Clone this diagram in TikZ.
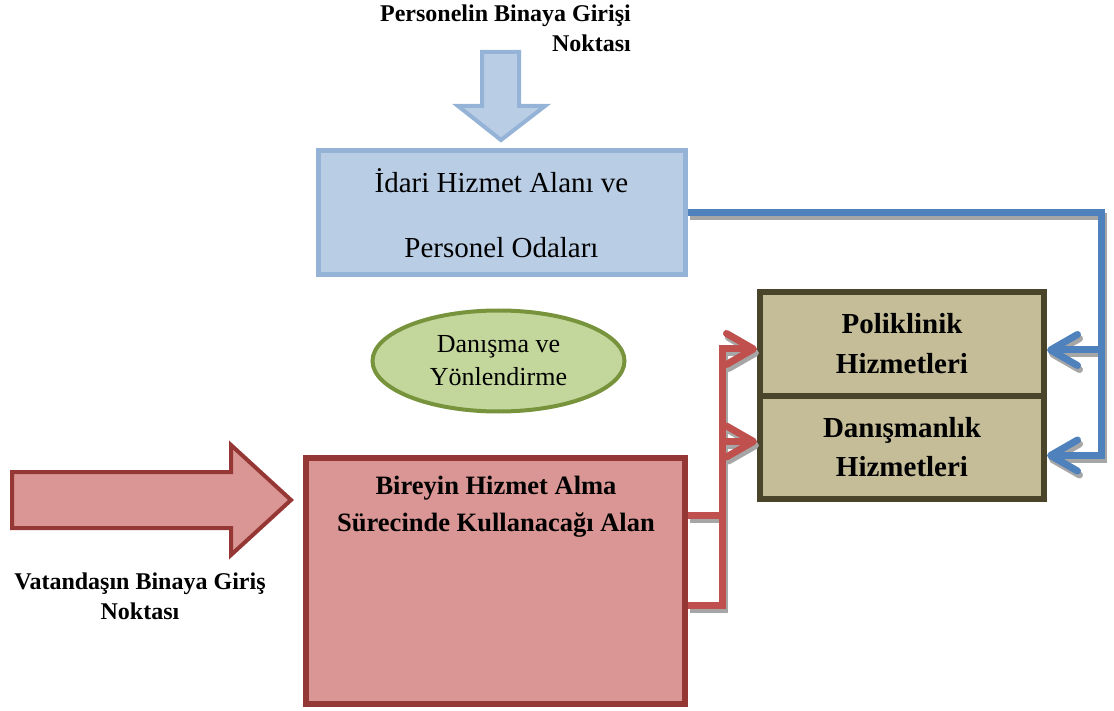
\documentclass[tikz,border=0pt]{standalone}
\usepackage{fontspec}
\setmainfont{Liberation Serif}
\usetikzlibrary{arrows.meta,shapes.geometric}
\definecolor{bfill}{HTML}{B9CDE5}
\definecolor{bline}{HTML}{95B3D7}
\definecolor{gfill}{HTML}{C3D69B}
\definecolor{gline}{HTML}{77933C}
\definecolor{rfill}{HTML}{D99694}
\definecolor{rline}{HTML}{953735}
\definecolor{tfill}{HTML}{C4BD97}
\definecolor{tline}{HTML}{4A452A}
\definecolor{cblue}{HTML}{4F81BD}
\definecolor{cred}{HTML}{C0504D}
\definecolor{shgray}{HTML}{A6A6A6}
\begin{document}
\begin{tikzpicture}[x=1pt,y=-1pt,
  box/.style={rectangle,inner sep=0pt},
  lbl/.style={inner sep=0pt,align=center,font=\bfseries\fontsize{24}{30}\selectfont},
  conn/.style={line width=7pt,line join=miter,-{Straight Barb[length=27pt,width=31pt,round]}},
  shadowconn/.style={conn,draw=shgray,transform canvas={xshift=2pt,yshift=-4pt}}]
\useasboundingbox (0,0) rectangle (1114,711);

% block arrows
\draw[line width=4pt,draw=bline,fill=bfill,line join=miter]
  (482,52) -- (519,52) -- (519,106) -- (545,106) -- (501,140) -- (458,106) -- (482,106) -- cycle;
\draw[line width=4pt,draw=rline,fill=rfill,line join=miter]
  (12,472) -- (231,472) -- (231,445) -- (291,500) -- (231,555) -- (231,528) -- (12,528) -- cycle;

% boxes
\node[box,draw=bline,fill=bfill,line width=5pt,minimum width=367pt,minimum height=124pt,
  align=center,font=\fontsize{29}{65}\selectfont] (idari) at (501.5,213)
  {İdari Hizmet Alanı ve\\Personel Odaları};
\node[ellipse,draw=gline,fill=gfill,line width=4pt,minimum width=252pt,minimum height=101pt,inner sep=0pt,
  align=center,font=\fontsize{26}{33}\selectfont] (danis) at (498.5,361)
  {Danışma ve\\Yönlendirme};
\node[box,draw=rline,fill=rfill,line width=6pt,minimum width=379pt,minimum height=246pt] (red) at (495.5,581) {};
\node[lbl,font=\bfseries\fontsize{26.5}{37}\selectfont,anchor=north] (redtxt) at (496,476)
  {Bireyin Hizmet Alma\\Sürecinde Kullanacağı Alan};
\node[box,draw=tline,fill=tfill,line width=6pt,minimum width=284pt,minimum height=104pt,
  align=center,font=\bfseries\fontsize{29}{40}\selectfont] (poli) at (902,344)
  {Poliklinik\\Hizmetleri};
\node[box,draw=tline,fill=tfill,line width=6pt,minimum width=284pt,minimum height=103pt,
  align=center,font=\bfseries\fontsize{29}{39}\selectfont] (dan) at (902,447.5)
  {Danışmanlık\\Hizmetleri};

% labels
\node[lbl,align=right,anchor=north east] (perslbl) at (631,5) {Personelin Binaya Girişi\\Noktası};
\node[lbl,anchor=north] (vatlbl) at (140,573) {Vatandaşın Binaya Giriş\\Noktası};

\coordinate (bv) at (1101,0);
\coordinate (rv) at (722,0);

% shadows
\draw[shadowconn] (idari.east) -| (bv |- 0,350) -- ([yshift=-6pt]poli.east);
\draw[shadowconn] (idari.east) -| (bv |- 0,455.5) -- ([yshift=-8pt]dan.east);
\draw[shadowconn] ([yshift=66pt]red.east) -| (rv |- 0,349) -- ([yshift=-5pt]poli.west);
\draw[shadowconn] ([yshift=-24pt]red.east) -| (rv |- 0,441.5) -- ([yshift=6pt]dan.west);

% connectors
\draw[conn,draw=cblue] (idari.east) -| (bv |- 0,350) -- ([yshift=-6pt]poli.east);
\draw[conn,draw=cblue] (idari.east) -| (bv |- 0,455.5) -- ([yshift=-8pt]dan.east);
\draw[conn,draw=cred] ([yshift=66pt]red.east) -| (rv |- 0,349) -- ([yshift=-5pt]poli.west);
\draw[conn,draw=cred] ([yshift=-24pt]red.east) -| (rv |- 0,441.5) -- ([yshift=6pt]dan.west);
\end{tikzpicture}
\end{document}
